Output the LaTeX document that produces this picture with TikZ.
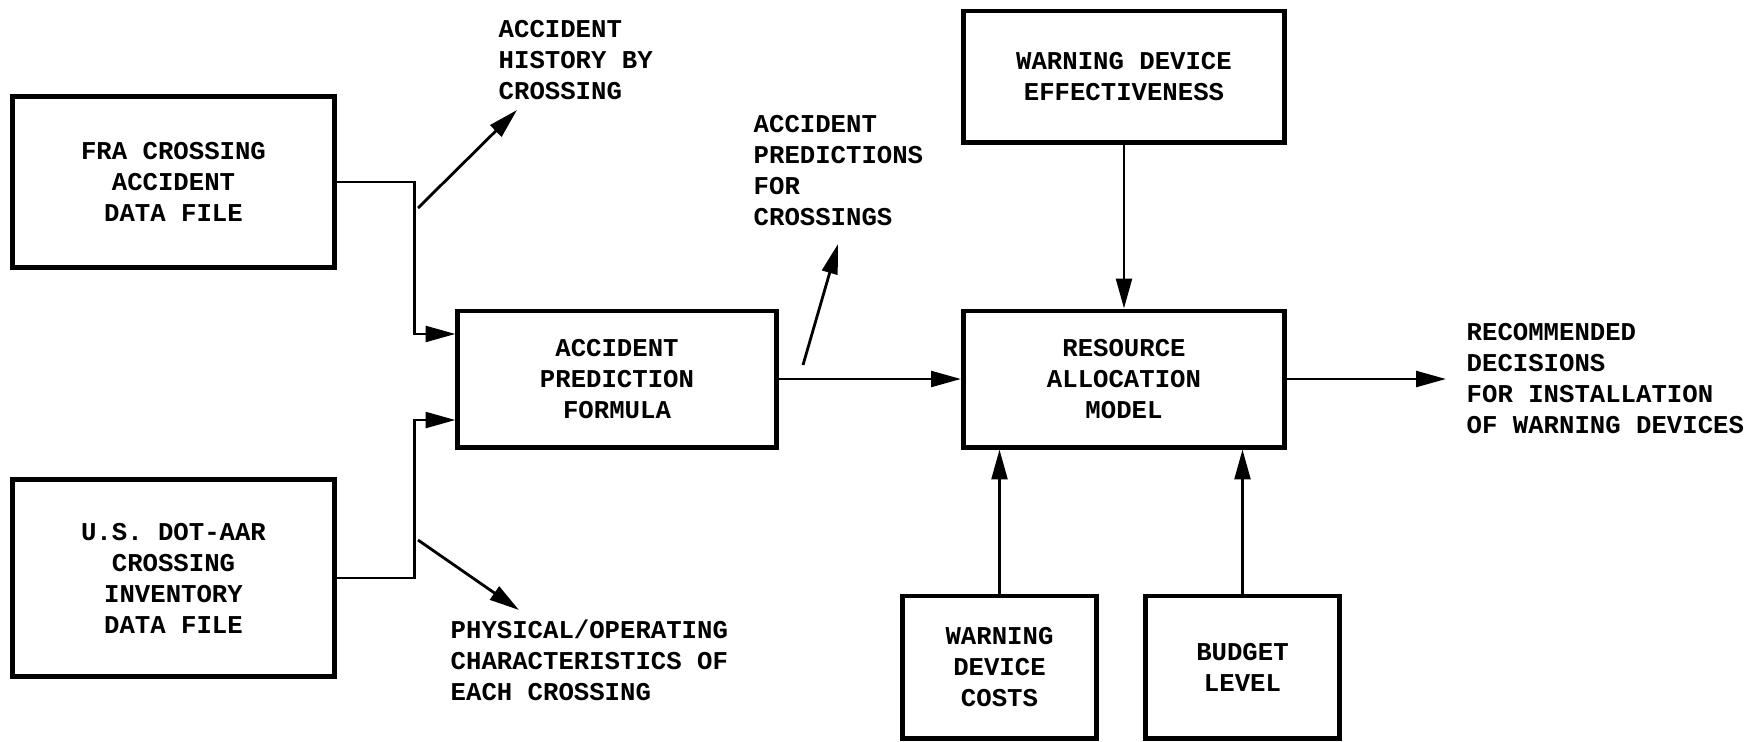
\documentclass[tikz,border=0pt]{standalone}
\usepackage{fontspec}
\setmonofont{Liberation Mono}
\usepackage{tikz}
\usetikzlibrary{calc,positioning,arrows.meta}

\begin{document}
\begin{tikzpicture}[
    x=0.01cm, y=-0.01cm,
    font=\ttfamily\bfseries\fontsize{7.3pt}{8.8pt}\selectfont,
    boxstyle/.style={draw, line width=1.4pt, align=center, inner sep=0pt},
    wstyle/.style={boxstyle, minimum width=3.21cm, minimum height=1.34cm},
    sstyle/.style={boxstyle, minimum width=1.93cm, minimum height=1.42cm},
    labelstyle/.style={align=left, anchor=north west, inner sep=0pt},
    pathstyle/.style={-{Triangle[length=8.5pt,width=4.5pt]}, line width=0.8pt}
  ]
    \useasboundingbox (0,0) rectangle (1744,742);

    % input files
    \node[boxstyle, minimum width=3.21cm, minimum height=1.7cm] (FRA)
      at (173.5,182)
      {FRA CROSSING\\ACCIDENT\\DATA FILE};
    \node[boxstyle, minimum width=3.21cm, minimum height=1.96cm] (DOT)
      at (173.5,578)
      {U.S. DOT-AAR\\CROSSING\\INVENTORY\\DATA FILE};

    % models
    \node[wstyle, minimum width=3.18cm, minimum height=1.36cm] (APF)
      at (617,379)
      {ACCIDENT\\PREDICTION\\FORMULA};
    \node[wstyle, minimum height=1.36cm] (RAM)
      at (1124,379)
      {RESOURCE\\ALLOCATION\\MODEL};
    \node[wstyle, minimum height=1.31cm] (WDE)
      at (1124,76.5)
      {WARNING DEVICE\\EFFECTIVENESS};
    \node[sstyle] (WDC)
      at (999.5,667)
      {WARNING\\DEVICE\\COSTS};
    \node[sstyle] (BUD)
      at (1242.5,667)
      {BUDGET\\LEVEL};

    % outputs
    \node[labelstyle] (HIST)
      at (498,20)
      {ACCIDENT\\HISTORY BY\\CROSSING};
    \node[labelstyle] (PHYS)
      at (450,619)
      {PHYSICAL/OPERATING\\CHARACTERISTICS OF\\EACH CROSSING};
    \node[labelstyle] (PRED)
      at (753,115)
      {ACCIDENT\\PREDICTIONS\\FOR\\CROSSINGS};
    \node[labelstyle] (REC)
      at (1466,323)
      {RECOMMENDED\\DECISIONS\\FOR INSTALLATION\\OF WARNING DEVICES};

    \coordinate (HISTTAIL) at (418,208);
    \coordinate (HISTTIP) at (517,110);
    \coordinate (PHYSTAIL) at (418,540);
    \coordinate (PHYSTIP) at (519,610);
    \coordinate (PREDTAIL) at (803,365);
    \coordinate (PREDTIP) at (838,244);
    \coordinate (RECTIP) at (1446,379);

    \draw[pathstyle] (FRA.east) -- ++(78,0) |- ([yshift=0.45cm]APF.west);
    \draw[pathstyle] (DOT.east) -- ++(78,0) |- ([yshift=-0.41cm]APF.west);
    \draw[pathstyle] (HISTTAIL) -- (HISTTIP);
    \draw[pathstyle] (PHYSTAIL) -- (PHYSTIP);
    \draw[pathstyle] (PREDTAIL) -- (PREDTIP);
    \draw[pathstyle] (APF.east) -- (RAM.west);
    \draw[pathstyle] (WDE.south) -- (RAM.north);
    \draw[pathstyle] (WDC.north) -- (WDC.north |- RAM.south);
    \draw[pathstyle] (BUD.north) -- (BUD.north |- RAM.south);
    \draw[pathstyle] (RAM.east) -- (RECTIP);
  \end{tikzpicture}
\end{document}
